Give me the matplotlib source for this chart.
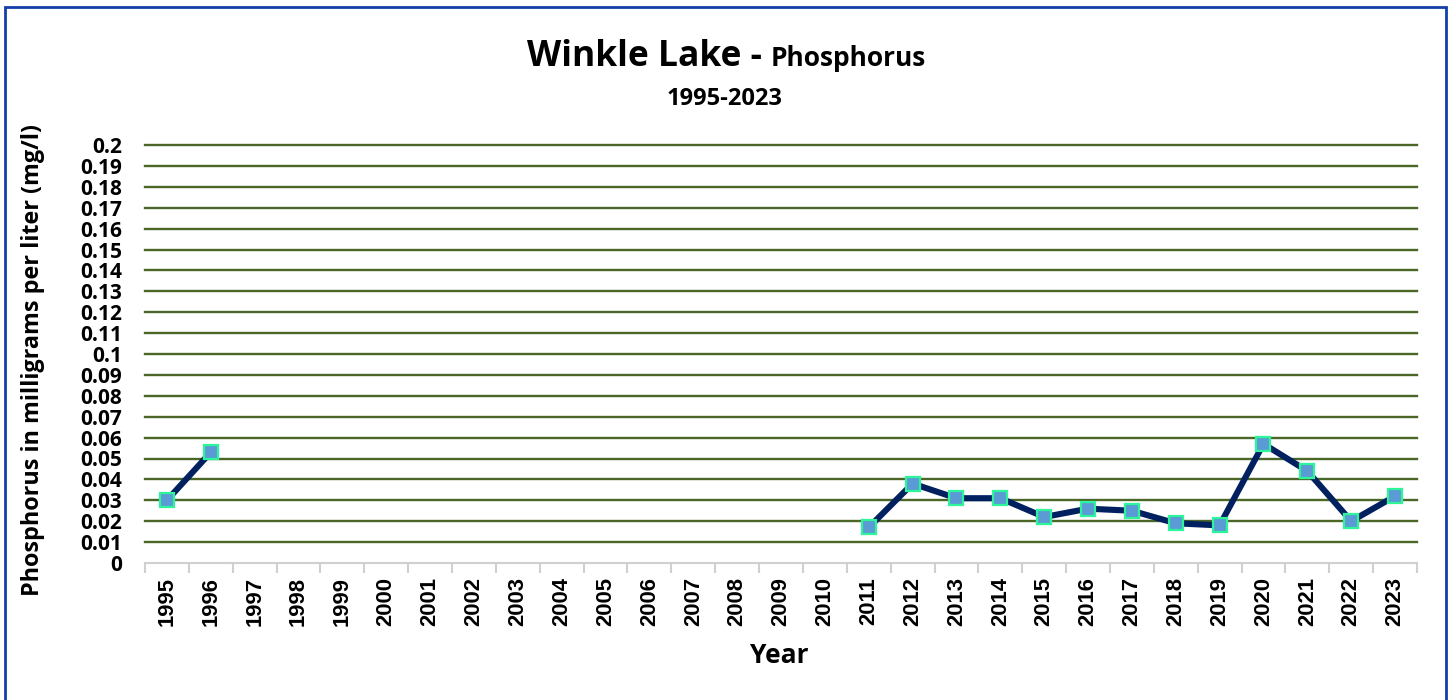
import matplotlib
matplotlib.use("Agg")
import matplotlib.pyplot as plt
from matplotlib.patches import Rectangle
import numpy as np

# data
years = list(range(1995, 2024))
phosphorus = {
    1995: 0.030, 1996: 0.053,
    2011: 0.017, 2012: 0.038, 2013: 0.031, 2014: 0.031, 2015: 0.022,
    2016: 0.026, 2017: 0.025, 2018: 0.019, 2019: 0.018, 2020: 0.057,
    2021: 0.044, 2022: 0.020, 2023: 0.032,
}
y_ticks = [round(i * 0.01, 2) for i in range(21)]

values = [phosphorus.get(y, np.nan) for y in years]
xpos = np.arange(len(years))

fig = plt.figure(figsize=(14.52, 7.0), dpi=100)
ax = fig.add_axes([145 / 1452, 1 - 563 / 700, (1417 - 145) / 1452, (563 - 145) / 700])

# blue frame around the chart
fig.patches.append(Rectangle((5 / 1452, -0.05), 1441 / 1452, 1.05 - 7 / 700,
                             transform=fig.transFigure, fill=False,
                             edgecolor="#1240a8", linewidth=2))

for t in y_ticks[1:]:
    ax.axhline(t, color="#4b6626", linewidth=1.7, zorder=1, clip_on=False)

ax.plot(xpos, values, color="#002060", linewidth=4.4, marker="s",
        markersize=10, markerfacecolor="#5b9bd5", markeredgecolor="#2cf59a",
        markeredgewidth=1.6, zorder=3)

ax.set_xlim(-0.5, len(years) - 0.5)
ax.set_ylim(0, 0.2)

ax.set_yticks(y_ticks)
ax.set_yticklabels(["%g" % t for t in y_ticks], fontsize=15,
                   fontfamily="Open Sans", fontweight="bold")
ax.tick_params(axis="y", length=0, pad=16.5)

ax.set_xticks(xpos)
ax.set_xticklabels([str(y) for y in years], rotation=90, fontsize=15.8,
                   fontfamily="Liberation Sans", fontweight="bold")
ax.set_xticks(np.arange(len(years) + 1) - 0.5, minor=True)
ax.tick_params(axis="x", which="major", length=0, pad=10)
ax.tick_params(axis="x", which="minor", length=7, width=1.5, color="#d0d0d0")

for s in ["top", "right", "left"]:
    ax.spines[s].set_visible(False)
ax.spines["bottom"].set_color("#d0d0d0")
ax.spines["bottom"].set_linewidth(1.5)

ax.set_ylabel("Phosphorus in milligrams per liter (mg/l)", fontsize=16.8,
              fontfamily="Open Sans", fontweight="bold")
ax.yaxis.set_label_coords(-0.079, 0.486)
ax.set_xlabel("Year", fontsize=19, fontfamily="Open Sans", fontweight="bold")
ax.xaxis.set_label_coords(0.499, -0.19)

# title in two sizes
split = 771 / 1452
fig.text(split, 1 - 57 / 700, "Winkle Lake - ", ha="right", va="center",
         fontsize=25.5, fontfamily="Open Sans", fontweight="bold")
fig.text(split, 1 - 59 / 700, "Phosphorus", ha="left", va="center",
         fontsize=19, fontfamily="Open Sans", fontweight="bold")
fig.text(725 / 1452, 1 - 99 / 700, "1995-2023", ha="center", va="center",
         fontsize=17, fontfamily="Open Sans", fontweight="bold")

fig.savefig("out.png", dpi=100)
